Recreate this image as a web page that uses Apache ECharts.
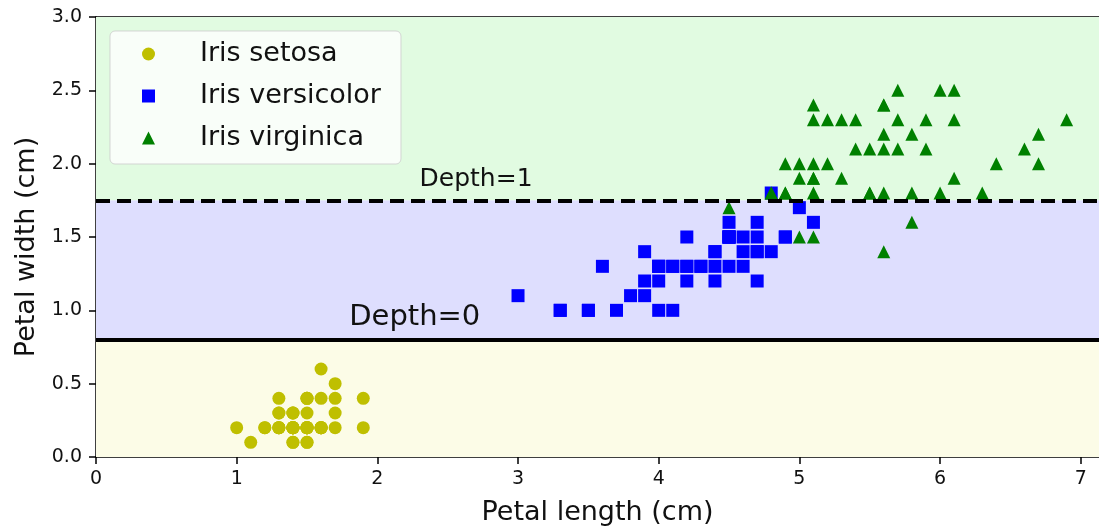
<!DOCTYPE html>
<html>
<head>
<meta charset="utf-8">
<script src="https://cdn.jsdelivr.net/npm/echarts@6/dist/echarts.min.js"></script>
<style>
html,body{margin:0;padding:0;background:#fff;}
#chart{width:1099px;height:527px;}
</style>
</head>
<body>
<div id="chart"></div>
<script>
// ---- data (petal length, petal width) ----
const setosa = [[1.4,0.2],[1.4,0.2],[1.3,0.2],[1.5,0.2],[1.4,0.2],[1.7,0.4],[1.4,0.3],[1.5,0.2],[1.4,0.2],[1.5,0.1],
[1.5,0.2],[1.6,0.2],[1.4,0.1],[1.1,0.1],[1.2,0.2],[1.5,0.4],[1.3,0.4],[1.4,0.3],[1.7,0.3],[1.5,0.3],
[1.7,0.2],[1.5,0.4],[1.0,0.2],[1.7,0.5],[1.9,0.2],[1.6,0.2],[1.6,0.4],[1.5,0.2],[1.4,0.2],[1.6,0.2],
[1.6,0.2],[1.5,0.4],[1.5,0.1],[1.4,0.2],[1.5,0.2],[1.2,0.2],[1.3,0.2],[1.4,0.1],[1.3,0.2],[1.5,0.2],
[1.3,0.3],[1.3,0.3],[1.3,0.2],[1.6,0.6],[1.9,0.4],[1.4,0.3],[1.6,0.2],[1.4,0.2],[1.5,0.2],[1.4,0.2]];
const versicolor = [[4.7,1.4],[4.5,1.5],[4.9,1.5],[4.0,1.3],[4.6,1.5],[4.5,1.3],[4.7,1.6],[3.3,1.0],[4.6,1.3],[3.9,1.4],
[3.5,1.0],[4.2,1.5],[4.0,1.0],[4.7,1.4],[3.6,1.3],[4.4,1.4],[4.5,1.5],[4.1,1.0],[4.5,1.5],[3.9,1.1],
[4.8,1.8],[4.0,1.3],[4.9,1.5],[4.7,1.2],[4.3,1.3],[4.4,1.4],[4.8,1.4],[5.0,1.7],[4.5,1.5],[3.5,1.0],
[3.8,1.1],[3.7,1.0],[3.9,1.2],[5.1,1.6],[4.5,1.5],[4.5,1.6],[4.7,1.5],[4.4,1.3],[4.1,1.3],[4.0,1.3],
[4.4,1.2],[4.6,1.4],[4.0,1.2],[3.3,1.0],[4.2,1.3],[4.2,1.2],[4.2,1.3],[4.3,1.3],[3.0,1.1],[4.1,1.3]];
const virginica = [[6.0,2.5],[5.1,1.9],[5.9,2.1],[5.6,1.8],[5.8,2.2],[6.6,2.1],[4.5,1.7],[6.3,1.8],[5.8,1.8],[6.1,2.5],
[5.1,2.0],[5.3,1.9],[5.5,2.1],[5.0,2.0],[5.1,2.4],[5.3,2.3],[5.5,1.8],[6.7,2.2],[6.9,2.3],[5.0,1.5],
[5.7,2.3],[4.9,2.0],[6.7,2.0],[4.9,1.8],[5.7,2.1],[6.0,1.8],[4.8,1.8],[4.9,1.8],[5.6,2.1],[5.8,1.6],
[6.1,1.9],[6.4,2.0],[5.6,2.2],[5.1,1.5],[5.6,1.4],[6.1,2.3],[5.6,2.4],[5.5,1.8],[4.8,1.8],[5.4,2.1],
[5.6,2.4],[5.1,2.3],[5.1,1.9],[5.9,2.3],[5.7,2.5],[5.2,2.3],[5.0,1.9],[5.2,2.0],[5.4,2.3],[5.1,1.8]];
const seriesNames = ['Iris setosa', 'Iris versicolor', 'Iris virginica'];
const splits = [0.8, 1.75];            // depth 0 and depth 1 thresholds on petal width
const depthLabels = [
  {text: 'Depth=0', x: 1.8, y: 0.9},
  {text: 'Depth=1', x: 2.3, y: 1.85}
];
const xRange = [0, 7.13];   // visible part of the x axis (figure is cropped on the right)
const yRange = [0, 3];
const yTicks = ['0.0','0.5','1.0','1.5','2.0','2.5','3.0'];

const FONT = 'DejaVu Sans';
const chart = echarts.init(document.getElementById('chart'), null, {renderer: 'canvas'});

const option = {
  animation: false,
  backgroundColor: '#ffffff',
  textStyle: {fontFamily: FONT},
  grid: {left: 96, top: 17, right: 0, height: 440, containLabel: false, outerBoundsMode: 'none'},
  legend: {
    data: seriesNames,
    orient: 'vertical',
    left: 110, top: 31,
    itemWidth: 13, itemHeight: 13,
    itemGap: 12,
    padding: [8, 20, 11, 32],
    backgroundColor: 'rgba(255,255,255,0.8)',
    borderColor: 'rgba(204,204,204,0.8)',
    borderWidth: 1,
    borderRadius: 5,
    textStyle: {fontFamily: FONT, fontSize: 27, color: '#111', lineHeight: 30, padding: [0, 0, 0, 40]}
  },
  xAxis: [{
    type: 'value', min: xRange[0], max: xRange[1], interval: 1,
    name: 'Petal length (cm)', nameLocation: 'middle', nameGap: 42,
    nameTextStyle: {fontFamily: FONT, fontSize: 27, color: '#111'},
    axisLine: {show: true, onZero: false, lineStyle: {color: '#000', width: 1.5}},
    axisTick: {show: true, inside: false, length: 7, lineStyle: {color: '#000', width: 1.5}},
    axisLabel: {fontFamily: FONT, fontSize: 19, color: '#111', margin: 13, showMaxLabel: false,
      formatter: v => (Number.isInteger(v) ? String(v) : '')},
    splitLine: {show: false}
  }, {
    type: 'value', position: 'top', min: xRange[0], max: xRange[1], interval: 1,
    axisLine: {show: true, onZero: false, lineStyle: {color: '#000', width: 1.5}},
    axisTick: {show: false}, axisLabel: {show: false}, splitLine: {show: false}
  }],
  yAxis: {
    type: 'value', min: yRange[0], max: yRange[1], interval: 0.5,
    name: 'Petal width (cm)', nameLocation: 'middle', nameGap: 55,
    nameTextStyle: {fontFamily: FONT, fontSize: 27, color: '#111', padding: [0, 20, 0, 0]},
    axisLine: {show: true, onZero: false, lineStyle: {color: '#000', width: 1.5}},
    axisTick: {show: true, inside: false, length: 7, lineStyle: {color: '#000', width: 1.5}},
    axisLabel: {fontFamily: FONT, fontSize: 19, color: '#111', margin: 14,
      formatter: v => yTicks[Math.round(v / 0.5)] || ''},
    splitLine: {show: false}
  },
  series: [
    {
      type: 'line', data: [], z: 0, silent: true,
      markArea: {
        silent: true,
        data: [
          [{yAxis: yRange[0], itemStyle: {color: '#fcfce7'}}, {yAxis: splits[0]}],
          [{yAxis: splits[0], itemStyle: {color: '#dedefe'}}, {yAxis: splits[1]}],
          [{yAxis: splits[1], itemStyle: {color: '#e1fbe1'}}, {yAxis: yRange[1]}]
        ]
      }
    },
    {name: seriesNames[0], type: 'scatter', data: setosa, symbol: 'circle', symbolSize: 13,
      itemStyle: {color: '#bfbf00', opacity: 1}, z: 2},
    {name: seriesNames[1], type: 'scatter', data: versicolor, symbol: 'rect', symbolSize: 13,
      itemStyle: {color: '#0000ff', opacity: 1}, z: 2},
    {name: seriesNames[2], type: 'scatter', data: virginica, symbol: 'triangle', symbolSize: 13,
      itemStyle: {color: '#008000', opacity: 1}, z: 2},
    {
      type: 'line', data: [], z: 5, silent: true,
      markLine: {
        silent: true, symbol: 'none', label: {show: false},
        data: [
          {yAxis: splits[0], lineStyle: {color: '#000', width: 3.8, type: 'solid'}},
          {yAxis: splits[1], lineStyle: {color: '#000', width: 3.8, type: [14, 7]}}
        ]
      }
    }
  ]
};
chart.setOption(option);

// depth labels, placed from data coordinates (matplotlib text: left/baseline anchor)
const sizes = [29, 25];
const graphics = depthLabels.map((d, i) => {
  const p = chart.convertToPixel({xAxisIndex: 0, yAxisIndex: 0}, [d.x, d.y]);
  return {
    type: 'text', z: 10,
    x: p[0], y: p[1] + Math.round(sizes[i] * 0.24),
    style: {text: d.text, fontFamily: FONT, fontSize: sizes[i], fill: '#111',
      align: 'left', verticalAlign: 'bottom'}
  };
});
chart.setOption({graphic: graphics});
</script>
</body>
</html>
